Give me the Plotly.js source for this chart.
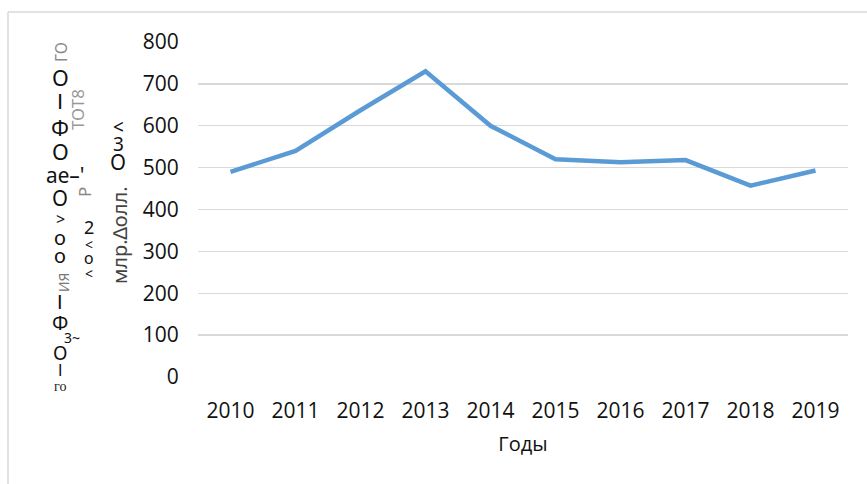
<!DOCTYPE html>
<html>
<head>
<meta charset="utf-8">
<script src="https://cdn.plot.ly/plotly-3.0.1.min.js"></script>
<style>html,body{margin:0;padding:0;background:#fff;}#chart{width:867px;height:484px;}</style>
</head>
<body>
<div id="chart"></div>
<script>
// ---- data ----
const years = ["2010","2011","2012","2013","2014","2015","2016","2017","2018","2019"];
const values = [490, 540, 637, 730, 600, 520, 513, 518, 457, 493];
const yTicks = [0, 100, 200, 300, 400, 500, 600, 700, 800];
const xTitle = "Годы";
// garbled (scanned) y-axis title glyphs as they appear in the reference
const yTitleGlyphs = ["ГО","О","I","Ф","О","ае–'","О",">","о","о","ИЯ","I","Ф","3~","О","I","го",
                      "ТОТ8","Р","2","<","о","<",
                      "<","3","О","млр.∆олл."];

// ---- layout helpers ----
const W = 867, H = 484;
const M = {l: 198, r: 19, t: 42, b: 107};
function px(x, y){ return {x: (x - M.l)/(W - M.l - M.r), y: (H - M.b - y)/(H - M.t - M.b)}; }

// position/style for each glyph: [x, y, size, angle, color, family]
const glyphStyle = [
  [61, 52, 16, -90, "#8a8a8a"],
  [60, 77, 22, 0], [60, 101, 22, 0, "#111", "Liberation Sans"], [60, 127, 22, 0], [60, 151, 22, 0],
  [65, 175, 21, 0], [60, 198, 21, 0], [60, 219, 16, 0], [60, 237, 20, 0], [60, 255, 20, 0],
  [63, 282, 14, -90, "#777"], [60, 302, 20, 0, "#111", "Liberation Sans"], [60, 322, 20, 0], [72, 337, 14, 0],
  [60, 353, 19, 0], [60, 370, 16, 0, "#111", "Liberation Sans"], [60, 386, 14, 0, "#222", "Liberation Serif"],
  [77, 110, 17, -90, "#999"], [84, 192, 17, -90, "#888"], [89, 227, 18, 0],
  [89, 244, 14, 0], [89, 258, 16, 0], [89, 273, 14, 0],
  [118, 127, 19, 0], [118, 144, 19, 0], [118, 162, 21, 0], [119, 235, 20, -90, "#444"]
];

const annotations = yTitleGlyphs.map((t, i) => {
  const s = glyphStyle[i];
  const p = px(s[0], s[1]);
  return {
    text: t, xref: "paper", yref: "paper", x: p.x, y: p.y,
    xanchor: "center", yanchor: "middle", showarrow: false, textangle: s[3],
    font: {size: s[2], color: s[4] || "#111", family: s[5] || "Noto Sans, sans-serif"}
  };
});

const trace = {
  x: years, y: values, type: "scatter", mode: "lines",
  line: {color: "#5B9BD5", width: 4.5},
  hoverinfo: "skip"
};

const layout = {
  width: W, height: H,
  margin: M,
  paper_bgcolor: "#fff", plot_bgcolor: "#fff",
  showlegend: false,
  font: {family: "Open Sans, sans-serif", size: 21, color: "#111"},
  xaxis: {
    type: "category", range: [-0.5, 9.5],
    showgrid: false, zeroline: false, showline: false,
    ticks: "outside", ticklen: 15, tickcolor: "rgba(0,0,0,0)",
    tickfont: {size: 21},
    title: {text: xTitle, font: {size: 20}, standoff: 13}
  },
  yaxis: {
    range: [0, 800], tickvals: yTicks,
    showgrid: true, gridcolor: "#D9D9D9", gridwidth: 1.3,
    zeroline: false, showline: false,
    ticks: "outside", ticklen: 14, tickcolor: "rgba(0,0,0,0)",
    tickfont: {size: 21}
  },
  annotations: annotations,
  shapes: [
    {type: "line", xref: "paper", yref: "paper", x0: px(8,12).x, x1: px(867,12).x, y0: px(8,12).y, y1: px(8,12).y, line: {color: "#D9D9D9", width: 1.5}},
    {type: "line", xref: "paper", yref: "paper", x0: px(8,12).x, x1: px(8,12).x, y0: px(8,12).y, y1: px(8,484).y, line: {color: "#D9D9D9", width: 1.5}}
  ]
};

Plotly.newPlot("chart", [trace], layout, {displayModeBar: false, staticPlot: true});
</script>
</body>
</html>
